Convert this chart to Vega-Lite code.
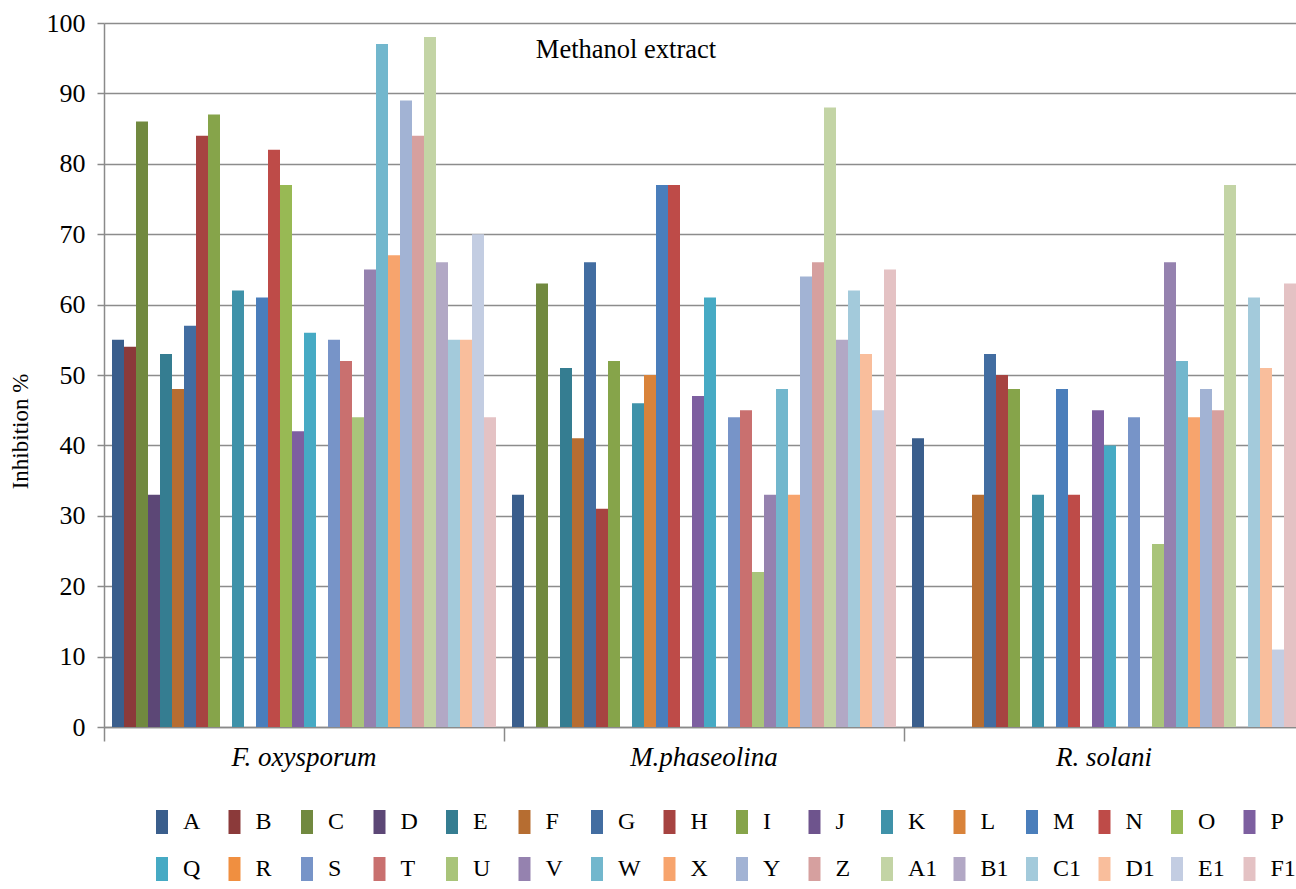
{
  "$schema": "https://vega.github.io/schema/vega-lite/v6.json",
  "width": 1200,
  "height": 704,
  "padding": {"left": 9, "top": 10, "right": 0, "bottom": 0},
  "background": "white",
  "config": {
    "font": "Liberation Serif",
    "view": {"stroke": null},
    "axis": {"labelFont": "Liberation Serif", "titleFont": "Liberation Serif", "labelColor": "#000000", "titleColor": "#000000"},
    "legend": {
      "direction": "horizontal",
      "columns": 16,
      "symbolLimit": 40,
      "symbolType": "M-0.5,-1H0.5V1H-0.5Z",
      "symbolSize": 576,
      "symbolStrokeWidth": 0,
      "labelFont": "Liberation Serif",
      "labelFontSize": 24,
      "labelColor": "#000000",
      "labelOffset": 9,
      "columnPadding": 9.5,
      "rowPadding": 23,
      "gridAlign": "all"
    }
  },
  "data": {
    "values": [
      {"pathogen": "F. oxysporum", "extract": "A", "inhibition": 55},
      {"pathogen": "F. oxysporum", "extract": "B", "inhibition": 54},
      {"pathogen": "F. oxysporum", "extract": "C", "inhibition": 86},
      {"pathogen": "F. oxysporum", "extract": "D", "inhibition": 33},
      {"pathogen": "F. oxysporum", "extract": "E", "inhibition": 53},
      {"pathogen": "F. oxysporum", "extract": "F", "inhibition": 48},
      {"pathogen": "F. oxysporum", "extract": "G", "inhibition": 57},
      {"pathogen": "F. oxysporum", "extract": "H", "inhibition": 84},
      {"pathogen": "F. oxysporum", "extract": "I", "inhibition": 87},
      {"pathogen": "F. oxysporum", "extract": "J", "inhibition": 0},
      {"pathogen": "F. oxysporum", "extract": "K", "inhibition": 62},
      {"pathogen": "F. oxysporum", "extract": "L", "inhibition": 0},
      {"pathogen": "F. oxysporum", "extract": "M", "inhibition": 61},
      {"pathogen": "F. oxysporum", "extract": "N", "inhibition": 82},
      {"pathogen": "F. oxysporum", "extract": "O", "inhibition": 77},
      {"pathogen": "F. oxysporum", "extract": "P", "inhibition": 42},
      {"pathogen": "F. oxysporum", "extract": "Q", "inhibition": 56},
      {"pathogen": "F. oxysporum", "extract": "R", "inhibition": 0},
      {"pathogen": "F. oxysporum", "extract": "S", "inhibition": 55},
      {"pathogen": "F. oxysporum", "extract": "T", "inhibition": 52},
      {"pathogen": "F. oxysporum", "extract": "U", "inhibition": 44},
      {"pathogen": "F. oxysporum", "extract": "V", "inhibition": 65},
      {"pathogen": "F. oxysporum", "extract": "W", "inhibition": 97},
      {"pathogen": "F. oxysporum", "extract": "X", "inhibition": 67},
      {"pathogen": "F. oxysporum", "extract": "Y", "inhibition": 89},
      {"pathogen": "F. oxysporum", "extract": "Z", "inhibition": 84},
      {"pathogen": "F. oxysporum", "extract": "A1", "inhibition": 98},
      {"pathogen": "F. oxysporum", "extract": "B1", "inhibition": 66},
      {"pathogen": "F. oxysporum", "extract": "C1", "inhibition": 55},
      {"pathogen": "F. oxysporum", "extract": "D1", "inhibition": 55},
      {"pathogen": "F. oxysporum", "extract": "E1", "inhibition": 70},
      {"pathogen": "F. oxysporum", "extract": "F1", "inhibition": 44},
      {"pathogen": "M.phaseolina", "extract": "A", "inhibition": 33},
      {"pathogen": "M.phaseolina", "extract": "B", "inhibition": 0},
      {"pathogen": "M.phaseolina", "extract": "C", "inhibition": 63},
      {"pathogen": "M.phaseolina", "extract": "D", "inhibition": 0},
      {"pathogen": "M.phaseolina", "extract": "E", "inhibition": 51},
      {"pathogen": "M.phaseolina", "extract": "F", "inhibition": 41},
      {"pathogen": "M.phaseolina", "extract": "G", "inhibition": 66},
      {"pathogen": "M.phaseolina", "extract": "H", "inhibition": 31},
      {"pathogen": "M.phaseolina", "extract": "I", "inhibition": 52},
      {"pathogen": "M.phaseolina", "extract": "J", "inhibition": 0},
      {"pathogen": "M.phaseolina", "extract": "K", "inhibition": 46},
      {"pathogen": "M.phaseolina", "extract": "L", "inhibition": 50},
      {"pathogen": "M.phaseolina", "extract": "M", "inhibition": 77},
      {"pathogen": "M.phaseolina", "extract": "N", "inhibition": 77},
      {"pathogen": "M.phaseolina", "extract": "O", "inhibition": 0},
      {"pathogen": "M.phaseolina", "extract": "P", "inhibition": 47},
      {"pathogen": "M.phaseolina", "extract": "Q", "inhibition": 61},
      {"pathogen": "M.phaseolina", "extract": "R", "inhibition": 0},
      {"pathogen": "M.phaseolina", "extract": "S", "inhibition": 44},
      {"pathogen": "M.phaseolina", "extract": "T", "inhibition": 45},
      {"pathogen": "M.phaseolina", "extract": "U", "inhibition": 22},
      {"pathogen": "M.phaseolina", "extract": "V", "inhibition": 33},
      {"pathogen": "M.phaseolina", "extract": "W", "inhibition": 48},
      {"pathogen": "M.phaseolina", "extract": "X", "inhibition": 33},
      {"pathogen": "M.phaseolina", "extract": "Y", "inhibition": 64},
      {"pathogen": "M.phaseolina", "extract": "Z", "inhibition": 66},
      {"pathogen": "M.phaseolina", "extract": "A1", "inhibition": 88},
      {"pathogen": "M.phaseolina", "extract": "B1", "inhibition": 55},
      {"pathogen": "M.phaseolina", "extract": "C1", "inhibition": 62},
      {"pathogen": "M.phaseolina", "extract": "D1", "inhibition": 53},
      {"pathogen": "M.phaseolina", "extract": "E1", "inhibition": 45},
      {"pathogen": "M.phaseolina", "extract": "F1", "inhibition": 65},
      {"pathogen": "R. solani", "extract": "A", "inhibition": 41},
      {"pathogen": "R. solani", "extract": "B", "inhibition": 0},
      {"pathogen": "R. solani", "extract": "C", "inhibition": 0},
      {"pathogen": "R. solani", "extract": "D", "inhibition": 0},
      {"pathogen": "R. solani", "extract": "E", "inhibition": 0},
      {"pathogen": "R. solani", "extract": "F", "inhibition": 33},
      {"pathogen": "R. solani", "extract": "G", "inhibition": 53},
      {"pathogen": "R. solani", "extract": "H", "inhibition": 50},
      {"pathogen": "R. solani", "extract": "I", "inhibition": 48},
      {"pathogen": "R. solani", "extract": "J", "inhibition": 0},
      {"pathogen": "R. solani", "extract": "K", "inhibition": 33},
      {"pathogen": "R. solani", "extract": "L", "inhibition": 0},
      {"pathogen": "R. solani", "extract": "M", "inhibition": 48},
      {"pathogen": "R. solani", "extract": "N", "inhibition": 33},
      {"pathogen": "R. solani", "extract": "O", "inhibition": 0},
      {"pathogen": "R. solani", "extract": "P", "inhibition": 45},
      {"pathogen": "R. solani", "extract": "Q", "inhibition": 40},
      {"pathogen": "R. solani", "extract": "R", "inhibition": 0},
      {"pathogen": "R. solani", "extract": "S", "inhibition": 44},
      {"pathogen": "R. solani", "extract": "T", "inhibition": 0},
      {"pathogen": "R. solani", "extract": "U", "inhibition": 26},
      {"pathogen": "R. solani", "extract": "V", "inhibition": 66},
      {"pathogen": "R. solani", "extract": "W", "inhibition": 52},
      {"pathogen": "R. solani", "extract": "X", "inhibition": 44},
      {"pathogen": "R. solani", "extract": "Y", "inhibition": 48},
      {"pathogen": "R. solani", "extract": "Z", "inhibition": 45},
      {"pathogen": "R. solani", "extract": "A1", "inhibition": 77},
      {"pathogen": "R. solani", "extract": "B1", "inhibition": 0},
      {"pathogen": "R. solani", "extract": "C1", "inhibition": 61},
      {"pathogen": "R. solani", "extract": "D1", "inhibition": 51},
      {"pathogen": "R. solani", "extract": "E1", "inhibition": 11},
      {"pathogen": "R. solani", "extract": "F1", "inhibition": 63}
    ]
  },
  "layer": [
    {
      "mark": {"type": "bar"},
      "encoding": {
        "x": {
          "field": "pathogen",
          "type": "nominal",
          "sort": ["F. oxysporum", "M.phaseolina", "R. solani"],
          "scale": {"paddingInner": 0.04, "paddingOuter": 0.02},
          "axis": {
            "orient": "bottom",
            "title": null,
            "labels": false,
            "grid": false,
            "bandPosition": -0.0208,
            "ticks": true,
            "tickSize": 14,
            "tickWidth": 1.5,
            "tickColor": "#8a8a8a",
            "domain": true,
            "domainColor": "#8a8a8a",
            "domainWidth": 1.5
          }
        },
        "xOffset": {
          "field": "extract",
          "type": "nominal",
          "sort": ["A","B","C","D","E","F","G","H","I","J","K","L","M","N","O","P","Q","R","S","T","U","V","W","X","Y","Z","A1","B1","C1","D1","E1","F1"],
          "scale": {"paddingInner": 0, "paddingOuter": 0}
        },
        "y": {
          "field": "inhibition",
          "type": "quantitative",
          "scale": {"domain": [0, 100], "nice": false},
          "axis": {
            "title": "Inhibition %",
            "titleFont": "Liberation Serif",
            "titleFontSize": 23,
            "titleFontWeight": "normal",
            "titlePadding": 14,
            "titleY": 408,
            "values": [0, 10, 20, 30, 40, 50, 60, 70, 80, 90, 100],
            "labelFont": "Liberation Serif",
            "labelFontSize": 26,
            "labelPadding": 12,
            "tickSize": 7,
            "tickWidth": 1.5,
            "tickColor": "#8a8a8a",
            "domainColor": "#8a8a8a",
            "domainWidth": 1.5,
            "grid": true,
            "gridColor": "#8c8c8c",
            "gridWidth": 1.5
          }
        },
        "color": {
          "field": "extract",
          "type": "nominal",
          "title": null,
          "sort": ["A","B","C","D","E","F","G","H","I","J","K","L","M","N","O","P","Q","R","S","T","U","V","W","X","Y","Z","A1","B1","C1","D1","E1","F1"],
          "scale": {
            "domain": ["A","B","C","D","E","F","G","H","I","J","K","L","M","N","O","P","Q","R","S","T","U","V","W","X","Y","Z","A1","B1","C1","D1","E1","F1"],
            "range": ["#3a5e8c","#8b3a3a","#71893f","#5c4776","#357d91","#b66d31","#426da1","#a64341","#86a44a","#6e548d","#3f92a9","#d9833a","#4a7ebb","#be4b48","#98b954","#7d5fa0","#46aac4","#f08f40","#7794c8","#c9706f","#a9c47a","#9582af","#72b7cd","#f7a46d","#a2b3d4","#d6a09f","#c3d4a5","#b2a8c5","#a3cadb","#f9be9c","#c3cde2","#e4c2c4"]
          },
          "legend": {"orient": "none", "legendX": 46, "legendY": 787, "direction": "horizontal", "columns": 16}
        }
      }
    },
    {
      "data": {"values": [{"label": "Methanol extract"}]},
      "mark": {"type": "text", "align": "center", "baseline": "middle", "fontSize": 26.5, "font": "Liberation Serif", "color": "#000000"},
      "encoding": {
        "x": {
          "datum": "M.phaseolina",
          "type": "nominal",
          "axis": {
            "orient": "bottom",
            "title": null,
            "labels": true,
            "labelAngle": 0,
            "labelFont": "Liberation Serif",
            "labelFontSize": 27,
            "labelFontStyle": "italic",
            "labelPadding": 17,
            "ticks": false,
            "domain": false,
            "grid": false
          }
        },
        "xOffset": {"datum": "J", "type": "nominal"},
        "y": {"datum": 96.2, "type": "quantitative"},
        "text": {"field": "label"}
      }
    }
  ],
  "resolve": {"axis": {"x": "independent"}}
}
